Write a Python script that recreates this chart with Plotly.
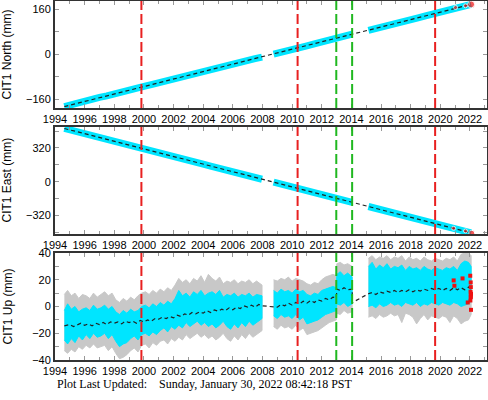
import plotly.graph_objects as go

# ---------------- data ----------------
north_t = [1994.63, 1995.0, 1995.5, 1996.0, 1996.5, 1997.0, 1997.5, 1998.0, 1998.5, 1999.0, 1999.5,
           2000.0, 2000.5, 2001.0, 2001.5, 2002.0, 2002.5, 2003.0, 2003.5, 2004.0, 2004.5, 2005.0,
           2005.5, 2006.0, 2006.5, 2007.0, 2007.5, 2007.97, None,
           2008.75, 2009.0, 2009.5, 2010.0, 2010.5, 2011.0, 2011.5, 2012.0, 2012.5, 2013.0, 2013.5, 2014.05, None,
           2015.15, 2015.5, 2016.0, 2016.5, 2017.0, 2017.5, 2018.0, 2018.5, 2019.0, 2019.5, 2020.0,
           2020.5, 2021.0, 2021.5, 2022.08]
north_v = [-186, -180, -175, -166, -161, -153, -148, -140, -134, -127, -121,
           -114, -108, -101, -95, -87, -82, -74, -68, -61, -55, -48,
           -42, -35, -29, -22, -16, -10, None,
           0, 4, 11, 17, 25, 30, 37, 43, 51, 56, 64, 71, None,
           85, 89, 97, 102, 110, 116, 123, 129, 136, 142, 149,
           155, 163, 168, 177]
north_model_t = [1994.63, 2000.0, 2005.0, 2010.0, 2014.05, 2015.15, 2019.6, 2022.08]
north_model_v = [-186, -114, -48, 18, 71, 85, 144, 177]
north_red_t = [2021.03, 2021.7, 2022.08]
north_red_v = [166, 172, 177]

east_t = [1994.63, 1995.0, 1995.5, 1996.0, 1996.5, 1997.0, 1997.5, 1998.0, 1998.5, 1999.0, 1999.5,
          2000.0, 2000.5, 2001.0, 2001.5, 2002.0, 2002.5, 2003.0, 2003.5, 2004.0, 2004.5, 2005.0,
          2005.5, 2006.0, 2006.5, 2007.0, 2007.5, 2007.97, None,
          2008.75, 2009.0, 2009.5, 2010.0, 2010.5, 2011.0, 2011.5, 2012.0, 2012.5, 2013.0, 2013.5, 2014.05, None,
          2015.15, 2015.5, 2016.0, 2016.5, 2017.0, 2017.5, 2018.0, 2018.5, 2019.0, 2019.5, 2020.0,
          2020.5, 2021.0, 2021.5, 2022.08]
east_v = [505, 491, 473, 455, 437, 419, 401, 383, 365, 347, 329,
          312, 293, 275, 256, 238, 220, 202, 184, 166, 148, 130,
          112, 94, 76, 58, 40, 23, None,
          -5, -14, -32, -50, -68, -86, -104, -122, -140, -158, -176, -196, None,
          -236, -249, -267, -285, -303, -321, -339, -357, -375, -393, -411,
          -429, -447, -465, -486]
east_model_t = [1994.63, 2000.0, 2005.0, 2010.0, 2014.05, 2015.15, 2019.6, 2022.08]
east_model_v = [505, 312, 130, -50, -196, -236, -395, -486]
east_red_t = [2020.9, 2021.7, 2022.12]
east_red_v = [-443, -468, -490]

up_t = [1994.63, 1994.85, 1995.1, 1995.35, 1995.6, 1995.85, 1996.1, 1996.35, 1996.6, 1996.85,
        1997.1, 1997.35, 1997.6, 1997.85, 1998.1, 1998.35, 1998.6, 1998.85, 1999.1, 1999.35,
        1999.6, 1999.85, 2000.1, 2000.35, 2000.6, 2000.85, 2001.1, 2001.35, 2001.6, 2001.85,
        2002.1, 2002.35, 2002.6, 2002.85, 2003.1, 2003.35, 2003.6, 2003.85, 2004.1, 2004.35,
        2004.6, 2004.85, 2005.1, 2005.35, 2005.6, 2005.85, 2006.1, 2006.35, 2006.6, 2006.85,
        2007.1, 2007.35, 2007.6, 2007.97, None,
        2008.75, 2009.0, 2009.25, 2009.5, 2009.75, 2010.0, 2010.25, 2010.5, 2010.75, 2011.0,
        2011.25, 2011.5, 2011.75, 2012.0, 2012.25, 2012.5, 2012.75, 2012.98, 2013.02, 2013.25,
        2013.5, 2013.75, 2014.05, None,
        2015.15, 2015.4, 2015.65, 2015.9, 2016.15, 2016.4, 2016.65, 2016.9, 2017.15, 2017.4,
        2017.65, 2017.9, 2018.15, 2018.4, 2018.65, 2018.9, 2019.15, 2019.4, 2019.65, 2019.9,
        2020.15, 2020.4, 2020.65, 2020.9, 2021.15, 2021.4, 2021.65, 2021.9, 2022.08]
up_cyan_hi = [-3, 2, -2, 0, -4, -2, -1, -3, 1, -2,
              -1, 1, -2, 0, -4, -6, -3, -5, -2, -4,
              -3, 0, 1, -1, 2, 0, 3, 1, 4, 2,
              6, 12, 8, 10, 7, 11, 9, 12, 8, 10,
              11, 9, 12, 7, 9, 8, 10, 7, 9, 8,
              10, 7, 9, 8, None,
              12, 10, 13, 11, 12, 10, 13, 11, 12, 9,
              8, 10, 9, 12, 13, 14, 15, 14, 24, 26,
              23, 25, 22, None,
              30, 33, 28, 31, 29, 32, 28, 30, 29, 31,
              27, 30, 28, 29, 27, 30, 28, 27, 29, 28,
              27, 29, 28, 30, 27, 32, 34, 33, 30]
up_cyan_lo = [-25, -28, -24, -27, -22, -25, -21, -24, -20, -23,
              -22, -20, -24, -21, -26, -30, -28, -27, -24, -22,
              -25, -21, -20, -22, -19, -21, -18, -16, -19, -15,
              -17, -14, -16, -12, -15, -13, -11, -14, -12, -15,
              -13, -16, -14, -11, -15, -17, -13, -16, -12, -15,
              -11, -14, -12, -9, None,
              -7, -9, -6, -8, -7, -9, -6, -10, -8, -13,
              -12, -11, -10, -8, -6, -5, -4, -3, 2, 1,
              3, 0, 2, None,
              0, 1, -1, 2, 0, 1, 3, 1, 2, 0,
              3, 2, 1, 3, 0, 2, 1, 3, 2, 1,
              3, 2, 1, 3, 2, 0, 1, 2, 4]
up_gray_hi = [9, 12, 8, 10, 6, 9, 8, 6, 10, 7,
              9, 11, 8, 10, 5, 3, 6, 4, 7, 5,
              8, 10, 11, 9, 12, 10, 13, 11, 14, 12,
              16, 21, 18, 20, 17, 21, 19, 23, 18, 24,
              21, 19, 22, 17, 19, 18, 20, 17, 19, 18,
              20, 17, 19, 16, None,
              20, 19, 21, 20, 22, 19, 21, 20, 19, 17,
              16, 18, 17, 20, 22, 23, 24, 23, 32, 33,
              31, 32, 30, None,
              36, 38, 35, 37, 36, 38, 35, 37, 36, 38,
              34, 37, 35, 36, 34, 37, 35, 34, 36, 35,
              34, 36, 35, 37, 34, 39, 40, 40, 38]
up_gray_lo = [-33, -35, -32, -34, -30, -32, -29, -31, -28, -31,
              -30, -29, -33, -30, -35, -39, -38, -36, -33, -31,
              -34, -29, -28, -31, -27, -29, -26, -25, -28, -24,
              -26, -23, -25, -21, -24, -22, -20, -23, -21, -24,
              -22, -25, -23, -20, -24, -26, -22, -25, -21, -24,
              -20, -23, -21, -18, None,
              -15, -17, -14, -16, -15, -17, -14, -18, -16, -21,
              -20, -19, -18, -16, -14, -12, -11, -10, -5, -6,
              -3, -5, -4, None,
              -8, -7, -9, -6, -8, -7, -5, -7, -6, -12,
              -5, -6, -8, -13, -9, -6, -10, -7, -8, -9,
              -7, -8, -12, -7, -9, -13, -11, -10, -6]
up_model_t = [1994.63, 1995.0, 1995.25, 1995.5, 1995.75, 1996.0, 1996.25, 1996.5, 1996.75, 1997.0,
              1997.25, 1997.5, 1997.75, 1998.0, 1998.25, 1998.5, 1998.75, 1999.0, 1999.25, 1999.5,
              1999.75, 2000.0, 2000.25, 2000.5, 2000.75, 2001.0, 2001.25, 2001.5, 2001.75, 2002.0,
              2002.25, 2002.5, 2002.75, 2003.0, 2003.25, 2003.5, 2003.75, 2004.0, 2004.25, 2004.5,
              2004.75, 2005.0, 2005.25, 2005.5, 2005.75, 2006.0, 2006.25, 2006.5, 2006.75, 2007.0,
              2007.25, 2007.5, 2007.75, 2008.0, 2008.75, 2009.0, 2009.25, 2009.5, 2009.75, 2010.0,
              2010.25, 2010.5, 2010.75, 2011.0, 2011.25, 2011.5, 2011.75, 2012.0, 2012.25, 2012.5,
              2012.75, 2012.98, 2013.02, 2013.25, 2013.5, 2013.75, 2014.05, 2014.07, 2015.15, 2015.4,
              2015.65, 2015.9, 2016.15, 2016.4, 2016.65, 2016.9, 2017.15, 2017.4, 2017.65, 2017.9,
              2018.15, 2018.4, 2018.65, 2018.9, 2019.15, 2019.4, 2019.65, 2019.9, 2020.15, 2020.4,
              2020.65, 2020.9, 2021.15, 2021.4, 2021.65, 2021.9, 2022.08]
up_model_v = [-14.5, -13.5, -15, -14, -12.5, -14, -13, -14.5, -12.5, -13.5,
              -12, -13.5, -11.5, -12.5, -11.5, -13, -11, -12, -11, -12.5,
              -10.5, -11.5, -10, -11, -9, -9.5, -8, -9, -7.5, -8.5,
              -6.5, -7.5, -5.5, -6.5, -4.5, -5.5, -4, -5, -3, -4.5,
              -2.5, -3.5, -2, -3, -1, -2.5, -0.5, -1.5, 0.5, -0.5,
              1, -0.5, 1.5, 0.5, 0, -0.5, 1.5, 0.5, 2.5, 1,
              3, 2, 4, 2.5, 4.5, 3, 5, 4, 6, 5,
              7, 6.5, 13, 12, 14, 12.5, 13, 3, 9.5, 10.5,
              9, 11, 10, 11.5, 10.5, 12, 10.5, 12, 11, 12.5,
              11, 12.5, 11.5, 13, 12, 13.5, 12.5, 13.5, 12, 13.5,
              12, 14, 12.5, 14, 12.5, 14.5, 13]
up_red_t = [2020.9, 2020.95, 2021.5, 2021.85, 2022.02, 2022.05, 2022.06, 2022.04, 2022.07,
            2022.05, 2022.06, 2022.03, 2022.07]
up_red_v = [19.5, 15.5, 21, 3, 23, 18, 14.5, 11, 9.5, 8, 7, 4.5, -2.5]

event_t = [1999.83, 2010.37, 2012.98, 2014.05, 2019.65]
event_color = ["#e82020", "#e82020", "#20b820", "#20b820", "#e82020"]

panel_titles = ["CIT1 North (mm)", "CIT1 East (mm)", "CIT1 Up (mm)"]
footer_text = "Plot Last Updated:\u00a0\u00a0\u00a0\u00a0Sunday, January 30, 2022 08:42:18 PST"

# ---------------- figure ----------------
W, H = 488, 400
CYAN = "rgb(0,229,255)"
GRAY = "rgb(200,200,200)"
fig = go.Figure()


def band_polygon(t, lo, hi):
    xs, ys = [], []
    seg = []
    for i in range(len(t) + 1):
        if i == len(t) or t[i] is None:
            if seg:
                xs += [t[j] for j in seg] + [t[j] for j in reversed(seg)] + [None]
                ys += [hi[j] for j in seg] + [lo[j] for j in reversed(seg)] + [None]
            seg = []
        else:
            seg.append(i)
    return xs, ys


# North
fig.add_trace(go.Scatter(x=north_t, y=north_v, mode="lines", line=dict(color=CYAN, width=7),
                         xaxis="x", yaxis="y"))
fig.add_trace(go.Scatter(x=north_model_t, y=north_model_v, mode="lines",
                         line=dict(color="#222", width=1.2, dash="4px,3px"), xaxis="x", yaxis="y"))
fig.add_trace(go.Scatter(x=north_red_t, y=north_red_v, mode="markers",
                         marker=dict(color="#ee1111", size=[4, 4, 7]), xaxis="x", yaxis="y"))
# East
fig.add_trace(go.Scatter(x=east_t, y=east_v, mode="lines", line=dict(color=CYAN, width=7),
                         xaxis="x2", yaxis="y2"))
fig.add_trace(go.Scatter(x=east_model_t, y=east_model_v, mode="lines",
                         line=dict(color="#222", width=1.2, dash="4px,3px"), xaxis="x2", yaxis="y2"))
fig.add_trace(go.Scatter(x=east_red_t, y=east_red_v, mode="markers",
                         marker=dict(color="#ee1111", size=[4, 4, 6]), xaxis="x2", yaxis="y2"))
# Up
gx, gy = band_polygon(up_t, up_gray_lo, up_gray_hi)
fig.add_trace(go.Scatter(x=gx, y=gy, mode="lines", fill="toself", fillcolor=GRAY,
                         line=dict(color=GRAY, width=1), xaxis="x3", yaxis="y3"))
cx, cy = band_polygon(up_t, up_cyan_lo, up_cyan_hi)
fig.add_trace(go.Scatter(x=cx, y=cy, mode="lines", fill="toself", fillcolor=CYAN,
                         line=dict(color=CYAN, width=1), xaxis="x3", yaxis="y3"))
fig.add_trace(go.Scatter(x=up_model_t, y=up_model_v, mode="lines",
                         line=dict(color="#222", width=1.2, dash="4px,3px"), xaxis="x3", yaxis="y3"))
fig.add_trace(go.Scatter(x=up_red_t, y=up_red_v, mode="markers",
                         marker=dict(color="#ee1111", size=4, symbol="square"), xaxis="x3", yaxis="y3"))

# geometry in pixels
x0, x1 = 55, 487
panels_px = [(1, 108), (127, 234), (253, 360)]
y_ranges = [[-191, 189], [-497, 519], [-40, 40]]
y_dticks = [160, 320, 20]
tickfont = dict(family="Liberation Sans, Arial, sans-serif", size=11, color="black")

layout = dict(width=W, height=H, margin=dict(l=0, r=0, t=0, b=0, pad=0), showlegend=False,
              plot_bgcolor="white", paper_bgcolor="white")
annotations = []
for i, (top, bot) in enumerate(panels_px):
    sfx = "" if i == 0 else str(i + 1)
    layout["xaxis" + sfx] = dict(
        domain=[x0 / W, x1 / W], range=[1994.0, 2023.15], anchor="y" + sfx, automargin=False,
        tick0=1994, dtick=2, tickformat="d", ticks="inside", ticklen=4, tickcolor="#999",
        minor=dict(ticks="inside", dtick=1, ticklen=3, tickcolor="#999"),
        showline=True, linecolor="#333", linewidth=2, mirror="ticks", showgrid=False,
        zeroline=False, tickfont=tickfont)
    layout["yaxis" + sfx] = dict(
        domain=[1 - bot / H, 1 - top / H], range=y_ranges[i], anchor="x" + sfx, automargin=False,
        dtick=y_dticks[i], tick0=0, ticks="inside", ticklen=4, tickcolor="#999",
        minor=dict(ticks="inside", dtick=y_dticks[i] / 2, ticklen=4, tickcolor="#999"),
        showline=True, linecolor="#333", linewidth=2, mirror="ticks", showgrid=False,
        zeroline=False, tickfont=tickfont)
    annotations.append(dict(text=panel_titles[i], xref="paper", yref="paper",
                            x=7 / W, y=1 - (top + bot) / 2 / H, textangle=-90,
                            xanchor="center", yanchor="middle", showarrow=False,
                            font=dict(family="Liberation Sans, Arial, sans-serif", size=12,
                                      color="black")))

shapes = []
for i in range(3):
    sfx = "" if i == 0 else str(i + 1)
    for t, c in zip(event_t, event_color):
        shapes.append(dict(type="line", xref="x" + sfx, yref="y" + sfx + " domain",
                           x0=t, x1=t, y0=0, y1=1,
                           line=dict(color=c, width=2, dash="10px,4px")))
layout["shapes"] = shapes
annotations.append(dict(text=footer_text, xref="paper", yref="paper", x=55 / W, y=1 - 384 / H,
                        xanchor="left", yanchor="middle", showarrow=False,
                        font=dict(family="Liberation Serif, Times New Roman, serif",
                                  size=12, color="black")))
layout["annotations"] = annotations
fig.update_layout(**layout)
fig.write_html("out.html", config={"displayModeBar": False},
               post_script="document.body.style.margin='0px';document.body.style.overflow='hidden';")
